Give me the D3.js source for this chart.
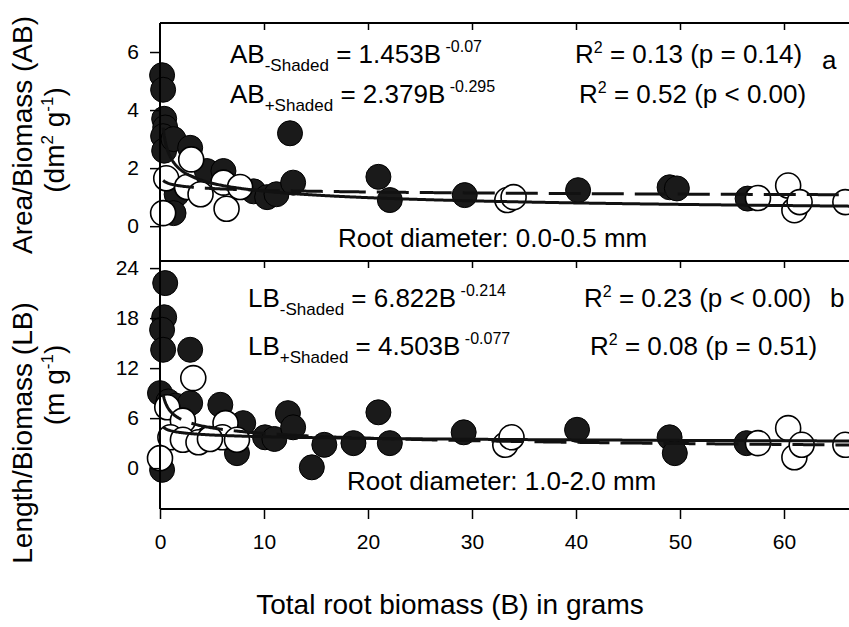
<!DOCTYPE html>
<html>
<head>
<meta charset="utf-8">
<script src="https://cdn.jsdelivr.net/npm/d3@7"></script>
<style>
  body { margin: 0; background: #fff; }
  svg { font-family: "Liberation Sans", Arial, sans-serif; }
</style>
</head>
<body>
<div id="chart"></div>
<script>
const width = 849;
const height = 627;

// tick values
const xTicks = [0, 10, 20, 30, 40, 50, 60];
const abTicks = [0, 2, 4, 6];
const lbTicks = [0, 6, 12, 18, 24];

// panel a: area/biomass, full sun (filled) and shaded (open)
const abSunB = [0.2, 0.3, 0.4, 0.5, 0.3, 0.4, 1.3, 2.9, 1.6, 4.5, 6.1, 9.0, 10.3, 11.2, 12.5, 12.8, 21.0, 22.1, 29.3, 40.2, 49.0, 49.7, 56.5, 1.3];
const abSunV = [5.2, 4.7, 3.7, 3.4, 3.1, 2.6, 3.0, 2.7, 1.1, 1.9, 1.9, 1.2, 1.0, 1.1, 3.2, 1.5, 1.7, 0.9, 1.07, 1.24, 1.34, 1.3, 0.95, 0.45];
const abShadeB = [0.3, 0.6, 2.6, 3.0, 3.9, 6.1, 6.4, 7.7, 33.4, 34.0, 57.5, 60.4, 61.0, 61.5, 65.9];
const abShadeV = [0.45, 1.65, 1.35, 2.3, 1.1, 1.5, 0.6, 1.35, 0.9, 1.0, 0.97, 1.4, 0.55, 0.83, 0.83];

// panel b: length/biomass
const lbSunB = [0.5, 0.4, 0.2, 0.3, 2.9, 0.0, 0.8, 1.5, 2.9, 5.8, 7.4, 8.0, 10.1, 11.0, 12.3, 12.8, 14.6, 15.8, 18.6, 21.0, 22.1, 29.2, 40.1, 49.0, 49.5, 56.4, 0.2, 4.5];
const lbSunV = [22.2, 18.1, 16.6, 14.2, 14.2, 9.0, 8.0, 7.5, 7.8, 7.6, 1.8, 5.4, 3.7, 3.5, 6.6, 4.9, 0.1, 2.8, 3.0, 6.7, 3.0, 4.3, 4.6, 3.7, 1.8, 3.0, -0.2, 3.5];
const lbShadeB = [3.2, 0.7, 2.2, 1.0, 2.2, 3.7, 6.3, 6.0, 7.4, 0.0, 4.8, 33.2, 33.8, 57.5, 60.4, 61.0, 61.7, 65.9];
const lbShadeV = [10.8, 7.3, 5.7, 3.7, 3.4, 3.1, 5.4, 3.7, 3.4, 1.2, 3.5, 2.8, 3.7, 3.0, 4.8, 1.3, 2.8, 2.8];

// power fits y = a * B^k  [-Shaded, +Shaded]
const abFitA = [1.453, 2.379];
const abFitK = [-0.07, -0.295];
const lbFitA = [6.822, 4.503];
const lbFitK = [-0.214, -0.077];

const svg = d3.select("#chart")
    .append("svg")
    .attr("width", width)
    .attr("height", height);

const x = d3.scaleLinear().domain([0, 70]).range([160, 888]);
const yA = d3.scaleLinear().domain([-1.2, 7.0]).range([261, 23]);
const yB = d3.scaleLinear().domain([-4.9, 24.85]).range([509, 261]);

const r = 12.5;

function drawPanel(y, sunB, sunV, shadeB, shadeV, fitA, fitK) {
    const g = svg.append("g");
    // filled first, open circles on top
    g.selectAll(".sun")
        .data(sunB.map((b, i) => [b, sunV[i]]))
        .enter().append("circle")
        .attr("cx", d => x(d[0]))
        .attr("cy", d => y(d[1]))
        .attr("r", r)
        .attr("fill", "#1a1a1a")
        .attr("stroke", "#000")
        .attr("stroke-width", 1);
    g.selectAll(".shade")
        .data(shadeB.map((b, i) => [b, shadeV[i]]))
        .enter().append("circle")
        .attr("cx", d => x(d[0]))
        .attr("cy", d => y(d[1]))
        .attr("r", r)
        .attr("fill", "#fff")
        .attr("stroke", "#000")
        .attr("stroke-width", 1.6);

    // fitted curves
    const bs = d3.range(0.3, 68, 0.1);
    const line = d3.line().x(d => x(d[0])).y(d => y(d[1]));
    fitA.forEach((a, i) => {
        g.append("path")
            .attr("d", line(bs.map(b => [b, a * Math.pow(b, fitK[i])])))
            .attr("fill", "none")
            .attr("stroke", "#111")
            .attr("stroke-width", 3)
            .attr("stroke-dasharray", i === 0 ? "32,11" : null);
    });
}

drawPanel(yA, abSunB, abSunV, abShadeB, abShadeV, abFitA, abFitK);
drawPanel(yB, lbSunB, lbSunV, lbShadeB, lbShadeV, lbFitA, lbFitK);

// frame lines
[23, 261, 509].forEach(yy => {
    svg.append("line").attr("x1", 160).attr("x2", 888).attr("y1", yy).attr("y2", yy)
        .attr("stroke", "#000").attr("stroke-width", 2);
});
svg.append("line").attr("x1", 160).attr("x2", 160).attr("y1", 23).attr("y2", 509)
    .attr("stroke", "#000").attr("stroke-width", 2);

// axes
function styleAxis(g) {
    g.select(".domain").remove();
    g.selectAll(".tick line").attr("stroke", "#000").attr("stroke-width", 1.5);
    g.selectAll("text").attr("fill", "#000").style("font-size", "21px")
        .style("font-family", "'Liberation Sans', Arial, sans-serif");
}

svg.append("g").attr("transform", "translate(160,0)")
    .call(d3.axisLeft(yA).tickValues(abTicks).tickSize(10).tickPadding(11))
    .call(styleAxis);
svg.append("g").attr("transform", "translate(160,0)")
    .call(d3.axisLeft(yB).tickValues(lbTicks).tickSize(10).tickPadding(11))
    .call(styleAxis);
svg.append("g").attr("transform", "translate(0,509)")
    .call(d3.axisBottom(x).tickValues(xTicks).tickSize(10).tickPadding(15))
    .call(styleAxis);
// inner ticks on top of each panel
[23, 261].forEach(yy => {
    svg.append("g").attr("transform", `translate(0,${yy})`)
        .call(d3.axisBottom(x).tickValues(xTicks.slice(1)).tickSize(7).tickFormat(""))
        .call(styleAxis);
});

// axis titles
svg.append("text")
    .attr("x", 450).attr("y", 614)
    .attr("text-anchor", "middle")
    .style("font-size", "28px")
    .text("Total root biomass (B) in grams");

svg.append("text")
    .attr("transform", "translate(32,135) rotate(-90)")
    .attr("text-anchor", "middle")
    .style("font-size", "28px")
    .text("Area/Biomass (AB)");
svg.append("text")
    .attr("transform", "translate(32,433) rotate(-90)")
    .attr("text-anchor", "middle")
    .style("font-size", "28px")
    .text("Length/Biomass (LB)");

svg.append("text")
    .attr("transform", "translate(64,140) rotate(-90)")
    .attr("text-anchor", "middle")
    .style("font-size", "28px")
    .call(t => {
        t.append("tspan").text("(dm");
        t.append("tspan").text("2").attr("dy", -11).style("font-size", "17px");
        t.append("tspan").text(" g").attr("dy", 11);
        t.append("tspan").text("-1").attr("dy", -11).style("font-size", "17px");
        t.append("tspan").text(")").attr("dy", 11);
    });
svg.append("text")
    .attr("transform", "translate(64,385) rotate(-90)")
    .attr("text-anchor", "middle")
    .style("font-size", "28px")
    .call(t => {
        t.append("tspan").text("(m g");
        t.append("tspan").text("-1").attr("dy", -11).style("font-size", "17px");
        t.append("tspan").text(")").attr("dy", 11);
    });

// equation labels
function eq(px, py, name, sub, coef, expo) {
    const t = svg.append("text").attr("x", px).attr("y", py).style("font-size", "26px");
    t.append("tspan").text(name);
    t.append("tspan").text(sub).attr("dy", 8).style("font-size", "17px");
    t.append("tspan").text(" = " + coef + "B").attr("dy", -8);
    t.append("tspan").text(" " + expo).attr("dy", -11).style("font-size", "16px");
}
function rsq(px, py, txt) {
    const t = svg.append("text").attr("x", px).attr("y", py).style("font-size", "26px");
    t.append("tspan").text("R");
    t.append("tspan").text("2").attr("dy", -10).style("font-size", "16px");
    t.append("tspan").text(" = " + txt).attr("dy", 10);
}

eq(230, 63, "AB", "-Shaded", "1.453", "-0.07");
eq(230, 103, "AB", "+Shaded", "2.379", "-0.295");
rsq(575, 63, "0.13 (p = 0.14)");
rsq(579, 103, "0.52 (p < 0.00)");
svg.append("text").attr("x", 822).attr("y", 69).style("font-size", "26px").text("a");

eq(248, 307, "LB", "-Shaded", "6.822", "-0.214");
eq(248, 355, "LB", "+Shaded", "4.503", "-0.077");
rsq(584, 307, "0.23 (p < 0.00)");
rsq(590, 355, "0.08 (p = 0.51)");
svg.append("text").attr("x", 830).attr("y", 307).style("font-size", "26px").text("b");

svg.append("text").attr("x", 338).attr("y", 247).style("font-size", "26px")
    .text("Root diameter: 0.0-0.5 mm");
svg.append("text").attr("x", 347).attr("y", 490).style("font-size", "26px")
    .text("Root diameter: 1.0-2.0 mm");
</script>
</body>
</html>
